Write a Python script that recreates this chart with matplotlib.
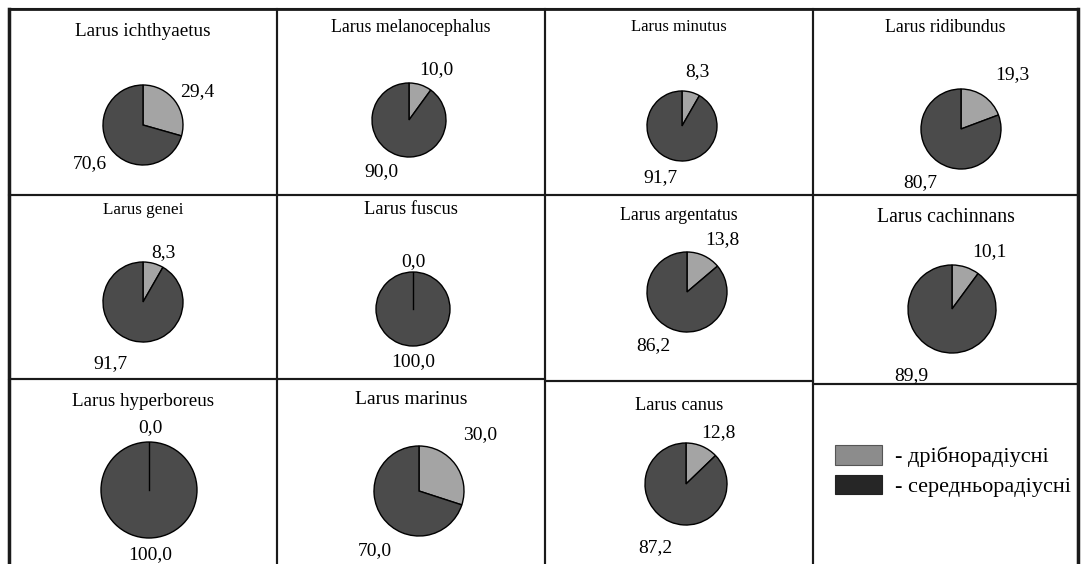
import numpy as np
import matplotlib
matplotlib.use("Agg")
import matplotlib.pyplot as plt
from matplotlib.patches import Rectangle, Patch

plt.rcParams['font.family'] = ['Liberation Serif', 'DejaVu Serif']

# дані: частка дрібнорадіусних / середньорадіусних (%)
species = ['Larus ichthyaetus', 'Larus melanocephalus', 'Larus minutus', 'Larus ridibundus',
           'Larus genei', 'Larus fuscus', 'Larus argentatus', 'Larus cachinnans',
           'Larus hyperboreus', 'Larus marinus', 'Larus canus']
small_radius = [29.4, 10.0, 8.3, 19.3, 8.3, 0.0, 13.8, 10.1, 0.0, 30.0, 12.8]
medium_radius = [70.6, 90.0, 91.7, 80.7, 91.7, 100.0, 86.2, 89.9, 100.0, 70.0, 87.2]
legend_labels = ['- дрібнорадіусні', '- середньорадіусні']

# розмітка (пікселі)
W, H = 1082, 564
x_edges = [9, 277, 545, 813, 1078]
row1_bottom = 195
row2_bottom = [379, 379, 381, 384]   # по стовпцях, межі трохи зсунуті
pie_centers = [(143, 125), (409, 120), (682, 126), (961, 129),
               (143, 302), (413, 309), (687, 292), (952, 309),
               (149, 490), (419, 491), (686, 484)]
pie_radius = [40, 37, 35, 40, 40, 37, 40, 44, 48, 45, 41]
title_y = [32, 27, 27, 28, 210, 210, 215, 217, 401, 400, 406]
title_size = [13.8, 12.8, 12.0, 12.8, 12.3, 13.3, 12.8, 14.2, 13.7, 14, 13.2]
# зсув підписів відносно центру (дрібні, середні)
label_offsets = [((54, -33), (-53, 39)), ((27, -50), (-28, 52)), ((15, -54), (-22, 52)),
                 ((51, -54), (-41, 54)), ((20, -49), (-33, 62)), ((0, -47), (0, 53)),
                 ((35, -52), (-34, 54)), ((37, -57), (-41, 67)), ((1, -62), (1, 65)),
                 ((61, -56), (-44, 60)), ((32, -51), (-31, 64))]

pie_colors = ['#a4a4a4', '#4b4b4b']
legend_colors = ['#8c8c8c', '#262626']

fig = plt.figure(figsize=(W / 100, H / 100), dpi=100)
bg = fig.add_axes([0, 0, 1, 1])
bg.set_xlim(0, W)
bg.set_ylim(H, 0)
bg.axis('off')

# рамки клітинок
for c in range(4):
    x0, x1 = x_edges[c], x_edges[c + 1]
    ys = [9, row1_bottom, row2_bottom[c], 566]
    for r in range(3):
        bg.add_patch(Rectangle((x0, ys[r]), x1 - x0, ys[r + 1] - ys[r], fill=False,
                               edgecolor='#1a1a1a', lw=1.5))
# товста зовнішня рамка
bg.plot([x_edges[0], x_edges[0]], [9, H], color='#1a1a1a', lw=2.5)
bg.plot([x_edges[-1], x_edges[-1]], [9, H], color='#1a1a1a', lw=2.5)
bg.plot([x_edges[0], x_edges[-1]], [9, 9], color='#1a1a1a', lw=2.0)


def fmt(v):
    return f"{v:.1f}".replace('.', ',')


for i, name in enumerate(species):
    r_idx, c_idx = divmod(i, 4)
    cx_box = (x_edges[c_idx] + x_edges[c_idx + 1]) / 2
    bg.text(cx_box, title_y[i], name, ha='center', va='center', fontsize=title_size[i])

    cx, cy = pie_centers[i]
    rad = pie_radius[i]
    ax = fig.add_axes([(cx - rad) / W, 1 - (cy + rad) / H, 2 * rad / W, 2 * rad / H])
    vals = [small_radius[i], medium_radius[i]]
    wedges, _ = ax.pie(vals, colors=pie_colors, startangle=90, counterclock=False,
                       wedgeprops=dict(edgecolor='black', linewidth=1.0))
    ax.set_xlim(-1, 1)
    ax.set_ylim(-1, 1)
    ax.axis('off')
    # нульовий сектор - лише радіальна лінія
    for w, v in zip(wedges, vals):
        if v == 0:
            a = np.deg2rad(w.theta1)
            ax.plot([0, np.cos(a)], [0, np.sin(a)], color='black', lw=1.0)
    for v, (dx, dy) in zip(vals, label_offsets[i]):
        bg.text(cx + dx, cy + dy, fmt(v), ha='center', va='center', fontsize=14)

# легенда
handles = [Patch(facecolor=legend_colors[0], edgecolor='#555555', lw=0.8),
           Patch(facecolor=legend_colors[1], edgecolor='#222222', lw=0.8)]
bg.legend(handles, legend_labels, loc='upper left', bbox_to_anchor=(835, 445),
          bbox_transform=bg.transData, frameon=False, fontsize=16.0,
          handlelength=2.1, handleheight=0.98, handletextpad=0.6,
          labelspacing=0.32, borderpad=0, borderaxespad=0)

fig.savefig('out.png', dpi=100)
